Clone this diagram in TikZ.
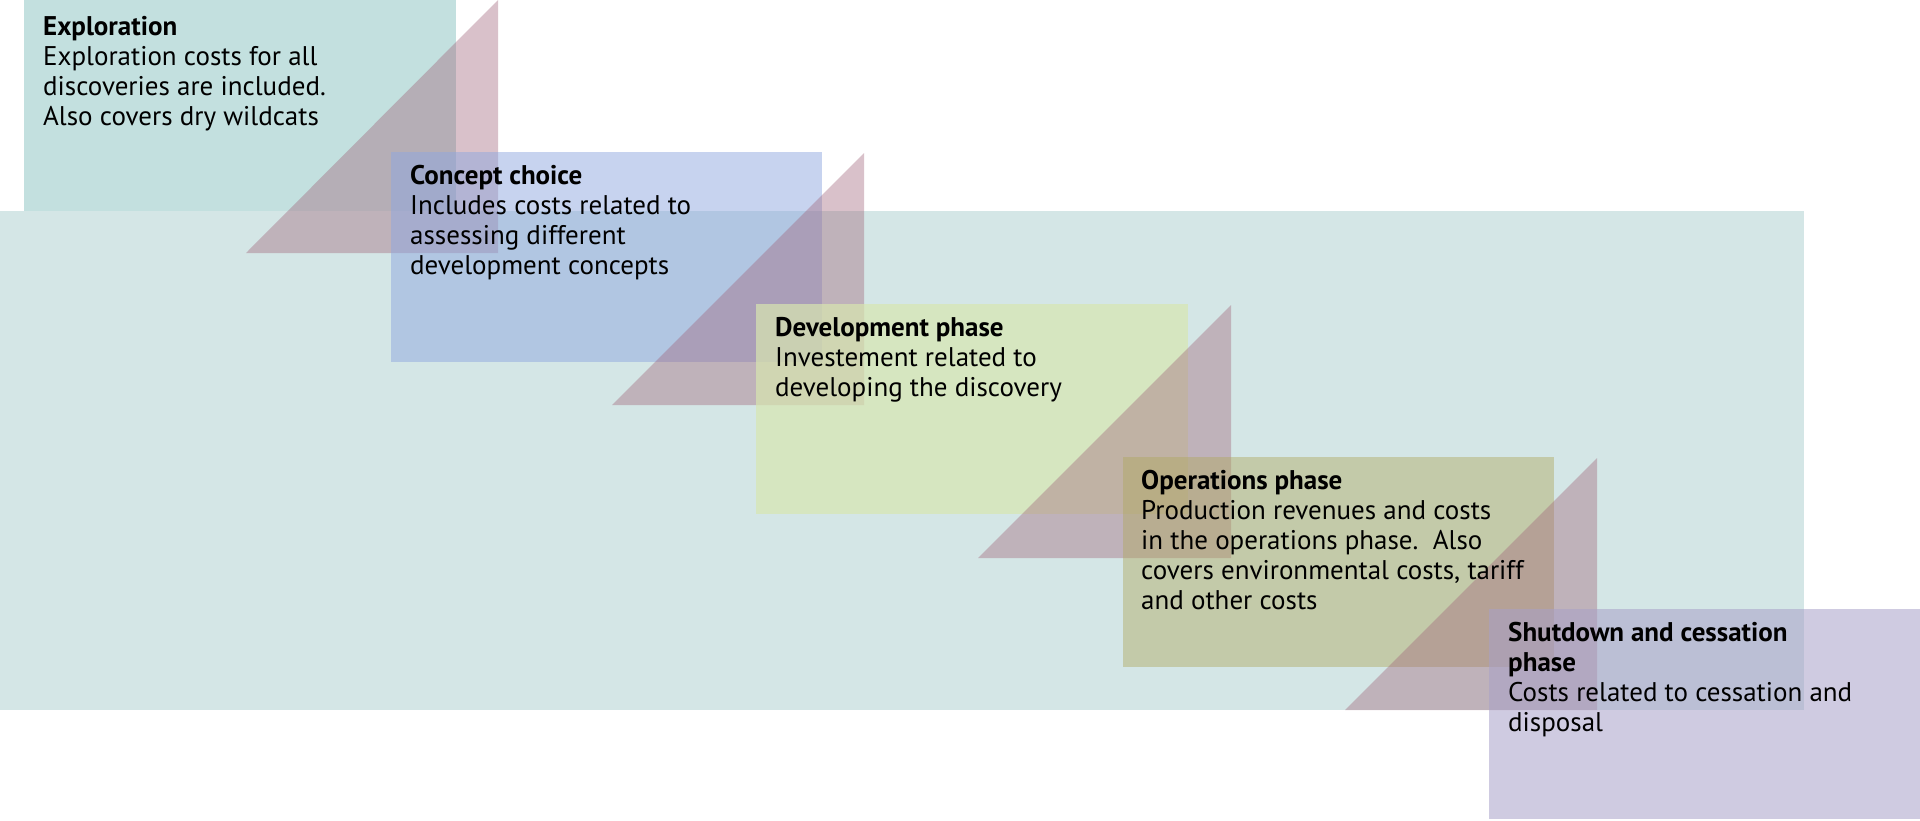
\documentclass[tikz,border=0pt]{standalone}
\usepackage{fontspec}
\setmainfont{PT Sans}
\begin{document}
\begin{tikzpicture}[x=1pt,y=-1pt,
  tri/.style={fill=tripink,fill opacity=0.4,draw=none},
  txt/.style={anchor=north west,align=left,inner sep=0pt,font=\fontsize{27}{30}\selectfont}]
\definecolor{bgc}{HTML}{D4E6E6}
\definecolor{expc}{HTML}{C3E0DF}
\definecolor{tripink}{HTML}{A0647A}
\definecolor{conc}{HTML}{8FA8E0}
\definecolor{devc}{HTML}{D8E6B0}
\definecolor{opsc}{HTML}{B0A860}
\definecolor{shc}{HTML}{A8A0C8}
\useasboundingbox (0,0) rectangle (1920,820);
\fill[bgc] (0,211) rectangle (1804,710);
\fill[expc] (24,0) rectangle (456,211);
\fill[tri] (498,0) -- (498,253) -- (246,253) -- cycle;
\fill[conc,fill opacity=0.5] (391,152) rectangle (822,362);
\fill[tri] (864,153) -- (864,405) -- (612,405) -- cycle;
\fill[devc,fill opacity=0.7] (756,304) rectangle (1188,514);
\fill[tri] (1231,305) -- (1231,558) -- (978,558) -- cycle;
\fill[opsc,fill opacity=0.45] (1123,457) rectangle (1554,667);
\fill[tri] (1597,458) -- (1597,710) -- (1345,710) -- cycle;
\fill[shc,fill opacity=0.55] (1489,609) rectangle (1920,819);
\node[txt] (t1) at (43,16) {\textbf{Exploration}\\Exploration costs for all\\discoveries are included.\\Also covers dry wildcats};
\node[txt] (t2) at (410,165) {\textbf{Concept choice}\\Includes costs related to\\assessing different\\development concepts};
\node[txt] (t3) at (775,317) {\textbf{Development phase}\\Investement related to\\developing the discovery};
\node[txt] (t4) at (1141,470) {\textbf{Operations phase}\\Production revenues and costs\\in the operations phase.\ \ Also\\covers environmental costs, tariff\\and other costs};
\node[txt] (t5) at (1508,622) {\textbf{Shutdown and cessation}\\\textbf{phase}\\Costs related to cessation and\\disposal};
\end{tikzpicture}
\end{document}
